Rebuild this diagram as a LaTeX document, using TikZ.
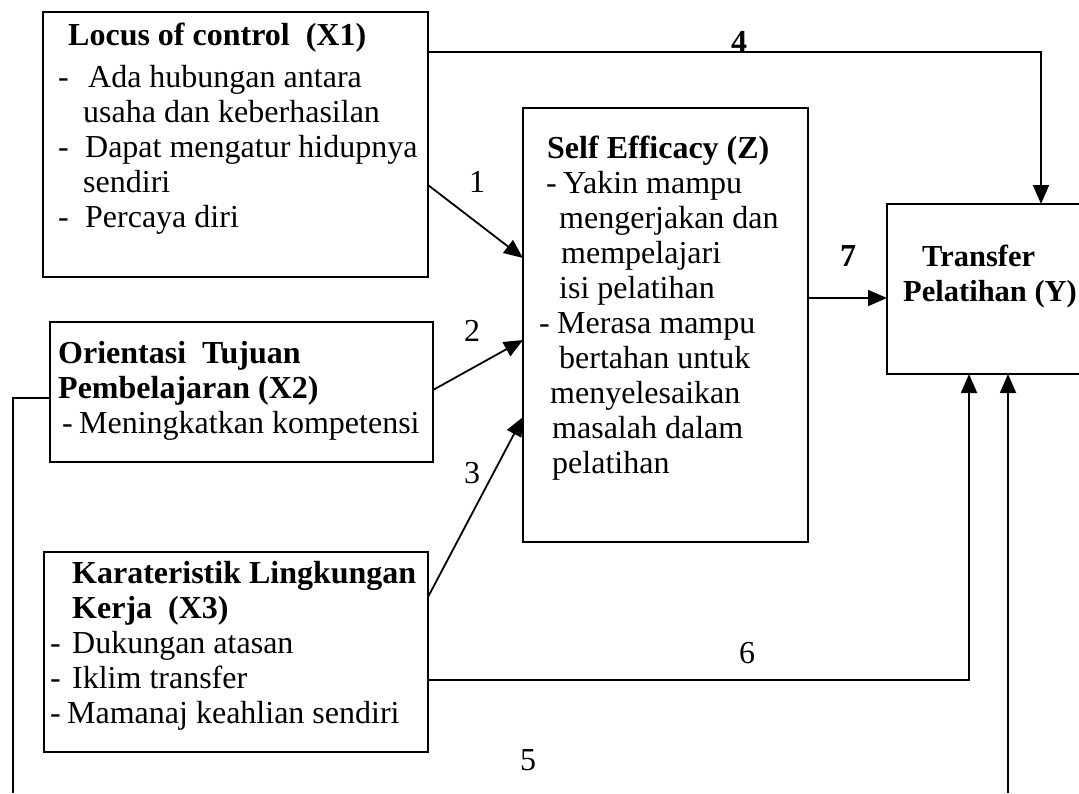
\documentclass[tikz,border=0pt]{standalone}
\usepackage{fontspec}
\setmainfont{Liberation Serif}
\usetikzlibrary{arrows.meta}
\newcommand{\itemdash}[1]{\makebox[#1][l]{-}}
\begin{document}
\begin{tikzpicture}[x=1pt,y=-1pt,
  box/.style={draw, line width=1.8pt, anchor=north west, inner sep=0pt, outer sep=0pt},
  body/.style={anchor=base west, inner sep=0pt, font=\fontsize{32}{35}\selectfont},
  num/.style={inner sep=0pt, font=\fontsize{32}{35}\selectfont},
  link/.style={line width=1.8pt},
  arr/.style={link, -{Triangle[length=19pt,width=16pt]}}]

\useasboundingbox[fill=white] (0,0) rectangle (1079,793);

% boxes
\node[box, minimum width=385pt, minimum height=265pt] (x1) at (43,12) {};
\node[box, minimum width=383pt, minimum height=140pt] (x2) at (50,322) {};
\node[box, minimum width=384pt, minimum height=200pt] (x3) at (44,552) {};
\node[box, minimum width=285pt, minimum height=434pt] (z) at (523,108) {};
\node[anchor=north west, inner sep=0pt, outer sep=0pt,
      minimum width=192pt, minimum height=170pt] (y) at (887,204) {};
\draw[link] (y.north east) -- (y.north west) -- (y.south west) -- (y.south east);

% box texts
\node[body] (x1t) at (58,45) {\begin{tabular}[t]{@{}l@{}}
\hspace*{10pt}\textbf{Locus of control\ \ (X1)}\\[7pt]
\itemdash{30pt}Ada hubungan antara\\
\hspace*{25pt}usaha dan keberhasilan\\
\itemdash{27pt}Dapat mengatur hidupnya\\
\hspace*{25pt}sendiri\\
\itemdash{27pt}Percaya diri
\end{tabular}};

\node[body] (x2t) at (58,363) {\begin{tabular}[t]{@{}l@{}}
\textbf{Orientasi\ \ Tujuan}\\
\textbf{Pembelajaran (X2)}\\
\hspace*{4pt}\itemdash{17pt}Meningkatkan kompetensi
\end{tabular}};

\node[body] (x3t) at (50,583) {\begin{tabular}[t]{@{}l@{}}
\hspace*{22pt}\textbf{Karateristik Lingkungan}\\
\hspace*{22pt}\textbf{Kerja\ \ (X3)}\\
\itemdash{22pt}Dukungan atasan\\
\itemdash{22pt}Iklim transfer\\
\itemdash{17pt}Mamanaj keahlian sendiri
\end{tabular}};

\node[body] (zt) at (539,158) {\begin{tabular}[t]{@{}l@{}}
\hspace*{8pt}\textbf{Self Efficacy (Z)}\\
\hspace*{7pt}\itemdash{17pt}Yakin mampu\\
\hspace*{20pt}mengerjakan dan\\
\hspace*{22pt}mempelajari\\
\hspace*{20pt}isi pelatihan\\
\itemdash{18pt}Merasa mampu\\
\hspace*{20pt}bertahan untuk\\
\hspace*{11pt}menyelesaikan\\
\hspace*{13pt}masalah dalam\\
\hspace*{13pt}pelatihan
\end{tabular}};

\node[body, font=\fontsize{30.5}{35}\selectfont] (yt) at (903,266) {\begin{tabular}[t]{@{}l@{}}
\hspace*{19pt}\textbf{Transfer}\\
\textbf{Pelatihan (Y)}
\end{tabular}};

% path labels
\node[num] (n1) at (477,182) {1};
\node[num] (n2) at (472,331) {2};
\node[num] (n3) at (472,473) {3};
\node[num] (n4) at (739,42) {\textbf{4}};
\node[num] (n5) at (528,760) {5};
\node[num] (n6) at (747,653) {6};
\node[num] (n7) at (848,256) {\textbf{7}};

% connectors
\coordinate (b5l) at (13,793);
\coordinate (b5r) at (1008,793);

\draw[arr] ([yshift=-40pt]x1.north east) -| ([xshift=154pt]y.north west);
\draw[arr] ([yshift=-173pt]x1.north east) -- ([yshift=-150pt]z.north west);
\draw[arr] ([yshift=-68pt]x2.north east) -- ([yshift=-232pt]z.north west);
\draw[arr] ([yshift=-45pt]x3.north east) -- ([yshift=-309pt]z.north west);
\draw[arr] ([yshift=-190pt]z.north east) -- ([yshift=-94pt]y.north west);
\draw[arr] ([yshift=-128pt]x3.north east) -| ([xshift=82pt]y.south west);
\draw[link] ([yshift=-76pt]x2.north west) -| (b5l);
\draw[arr] (b5r) -- ([xshift=121pt]y.south west);
\end{tikzpicture}
\end{document}
